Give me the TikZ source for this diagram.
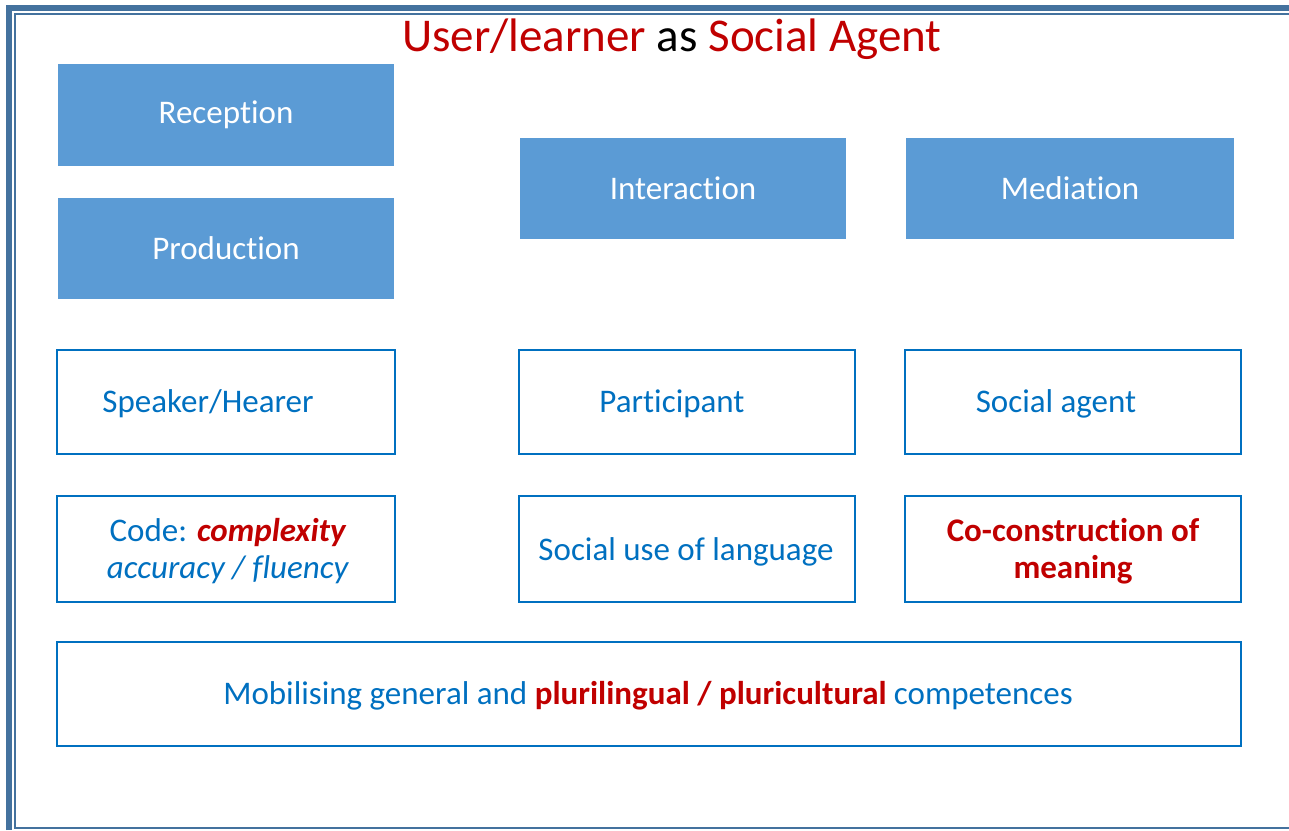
\documentclass[tikz,border=0pt]{standalone}
\usepackage{fontspec}
\setmainfont[Ligatures=NoCommon]{Carlito}
\definecolor{framec}{HTML}{44729E}
\definecolor{fillc}{HTML}{5B9BD5}
\definecolor{linec}{HTML}{0070C0}
\definecolor{redc}{HTML}{C00000}
\begin{document}
\begin{tikzpicture}[x=1pt,y=-1pt,
  filledbox/.style={fill=fillc, draw=none, inner sep=0pt, text=white, font=\fontsize{33}{37}\selectfont},
  outbox/.style={draw=linec, line width=2pt, inner sep=0pt},
  boxtext/.style={text=linec, inner sep=0pt, align=center, font=\fontsize{33}{37}\selectfont},
  red/.style={text=redc}]
\useasboundingbox (0,0) rectangle (1289,830);
% frame
\draw[framec, line width=6pt] (9,830) -- (9,8) -- (1289,8);
\draw[framec, line width=2pt] (1289,828) -- (15,828) -- (15,14) -- (1289,14);
% title
\node[inner sep=0pt, font=\fontsize{47}{52}\selectfont] (title) at (672,39) {\textcolor{redc}{User/learner} as \textcolor{redc}{Social Agent}};
% filled boxes
\node[filledbox, minimum width=336pt, minimum height=102pt] (rec) at (226,115) {Reception};
\node[filledbox, minimum width=336pt, minimum height=101pt] (prod) at (226,248.5) {Production};
\node[filledbox, minimum width=326pt, minimum height=101pt] (inter) at (683,188.5) {Interaction};
\node[filledbox, minimum width=328pt, minimum height=101pt] (med) at (1070,188.5) {Mediation};
% outlined boxes
\node[outbox, minimum width=338pt, minimum height=104pt] (spk) at (226,402) {};
\node[outbox, minimum width=336pt, minimum height=104pt] (part) at (687,402) {};
\node[outbox, minimum width=336pt, minimum height=104pt] (soc) at (1073,402) {};
\node[outbox, minimum width=338pt, minimum height=106pt] (code) at (226,549) {};
\node[outbox, minimum width=336pt, minimum height=106pt] (use) at (687,549) {};
\node[outbox, minimum width=336pt, minimum height=106pt] (cocon) at (1073,549) {};
\node[outbox, minimum width=1184pt, minimum height=104pt] (mob) at (649,694) {};
% texts
\node[boxtext] (spkT) at (208,404) {Speaker/Hearer};
\node[boxtext] (partT) at (672,404) {Participant};
\node[boxtext] (socT) at (1056,404) {Social agent};
\node[boxtext] (codeT) at (228,551) {Code: \textcolor{redc}{\textbf{\textit{complexity}}}\\\textit{accuracy / fluency}};
\node[boxtext] (useT) at (686,552) {Social use of language};
\node[boxtext, text=redc, font=\fontsize{33}{37}\selectfont\bfseries] (coconT) at (1073,551) {Co-construction of\\meaning};
\node[boxtext] (mobT) at (648,696) {Mobilising general and \textcolor{redc}{\textbf{plurilingual / pluricultural}} competences};
\end{tikzpicture}
\end{document}
